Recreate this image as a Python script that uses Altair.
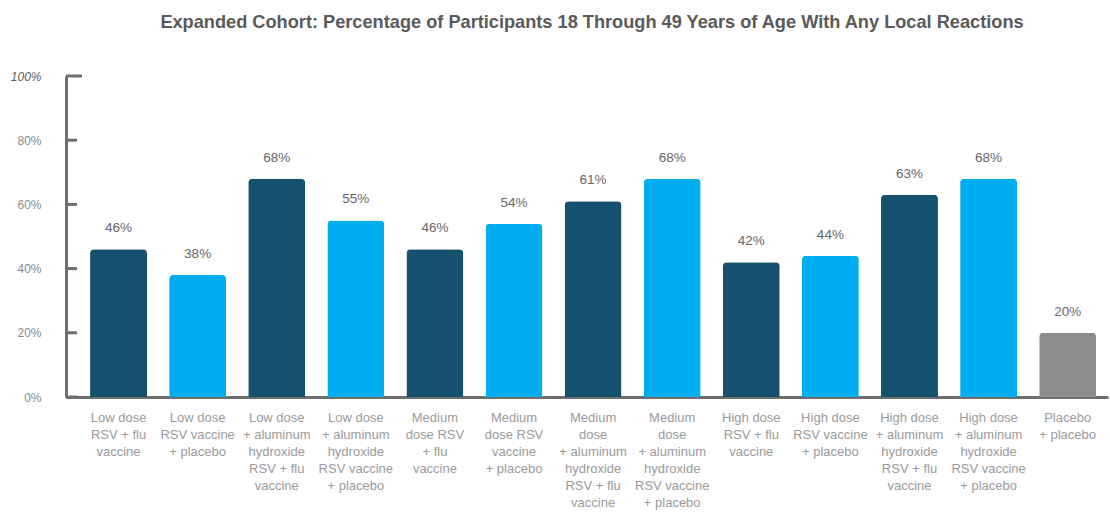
import altair as alt
import pandas as pd

categories = [
    "Low dose|RSV + flu|vaccine",
    "Low dose|RSV vaccine|+ placebo",
    "Low dose|+ aluminum|hydroxide|RSV + flu|vaccine",
    "Low dose|+ aluminum|hydroxide|RSV vaccine|+ placebo",
    "Medium|dose RSV|+ flu|vaccine",
    "Medium|dose RSV|vaccine|+ placebo",
    "Medium|dose|+ aluminum|hydroxide|RSV + flu|vaccine",
    "Medium|dose|+ aluminum|hydroxide|RSV vaccine|+ placebo",
    "High dose|RSV + flu|vaccine",
    "High dose|RSV vaccine|+ placebo",
    "High dose|+ aluminum|hydroxide|RSV + flu|vaccine",
    "High dose|+ aluminum|hydroxide|RSV vaccine|+ placebo",
    "Placebo|+ placebo",
]
values = [46, 38, 68, 55, 46, 54, 61, 68, 42, 44, 63, 68, 20]
groups = ["flu", "placebo", "flu", "placebo", "flu", "placebo", "flu",
          "placebo", "flu", "placebo", "flu", "placebo", "control"]
group_names = ["flu", "placebo", "control"]
group_colors = ["#16506f", "#00adef", "#8c8c8c"]
y_ticks = [0, 20, 40, 60, 80]
y_top = [100]

df = pd.DataFrame({"cat": categories, "val": values, "grp": groups})
df["label"] = df["val"].astype(str) + "%"

AXIS = "#6e6e6e"

x_enc = alt.X(
    "cat:N", sort=categories, title=None,
    scale=alt.Scale(paddingInner=0.28, paddingOuter=0.227, align=0.67),
    axis=alt.Axis(
        labelAngle=0, labelExpr="split(datum.label, '|')",
        labelFont="Liberation Sans", labelFontSize=13, labelColor="#9a9a9a",
        labelLineHeight=17, labelPadding=14, labelBaseline="top",
        ticks=False, domainColor=AXIS, domainWidth=3,
    ),
)
y_scale = alt.Scale(domain=[0, 100], nice=False)
y_enc = alt.Y(
    "val:Q", scale=y_scale, title=None,
    axis=alt.Axis(
        values=[0, 20, 40, 60, 80, 100], labelExpr="datum.value + '%'",
        labelFont="Liberation Sans", labelFontSize=12,
        labelColor={"condition": {"test": "datum.value == 100", "value": "#5e5e5e"}, "value": "#8a8a8a"},
        labelFontStyle={"condition": {"test": "datum.value == 100", "value": "italic"}, "value": "normal"},
        labelPadding=25, ticks=False, grid=False,
        domainColor=AXIS, domainWidth=3,
    ),
)

bars = alt.Chart(df).mark_bar(cornerRadiusTopLeft=4, cornerRadiusTopRight=4).encode(
    x=x_enc, y=y_enc,
    color=alt.Color("grp:N", scale=alt.Scale(domain=group_names, range=group_colors), legend=None),
)
labels = alt.Chart(df).mark_text(
    baseline="middle", dy=-21, font="Liberation Sans", fontSize=13.5, color="#666666"
).encode(x=alt.X("cat:N", sort=categories), y=alt.Y("val:Q", scale=y_scale), text="label:N")

tdf = pd.DataFrame({"t": y_ticks})
ticks = alt.Chart(tdf).mark_rule(color=AXIS, strokeWidth=3).encode(
    y=alt.Y("t:Q", scale=y_scale), x=alt.value(0), x2=alt.value(11)
)
tdf2 = pd.DataFrame({"t": y_top})
ticks2 = alt.Chart(tdf2).mark_rule(color=AXIS, strokeWidth=3).encode(
    y=alt.Y("t:Q", scale=y_scale), x=alt.value(0), x2=alt.value(16)
)

chart = alt.layer(bars, labels, ticks, ticks2).properties(
    width=1042, height=321,
    autosize=alt.AutoSizeParams(type="none"),
    padding={"left": 66, "top": 76, "right": 2, "bottom": 115},
    title=alt.TitleParams(
        "Expanded Cohort: Percentage of Participants 18 Through 49 Years of Age With Any Local Reactions",
        font="Liberation Sans", fontSize=18.2, fontWeight="bold", color="#5a5a5a",
        anchor="middle", frame="group", offset=24, dx=5, baseline="alphabetic",
    ),
).configure_view(stroke=None)

chart.save("out.html", embed_options={"renderer": "svg", "actions": False})
